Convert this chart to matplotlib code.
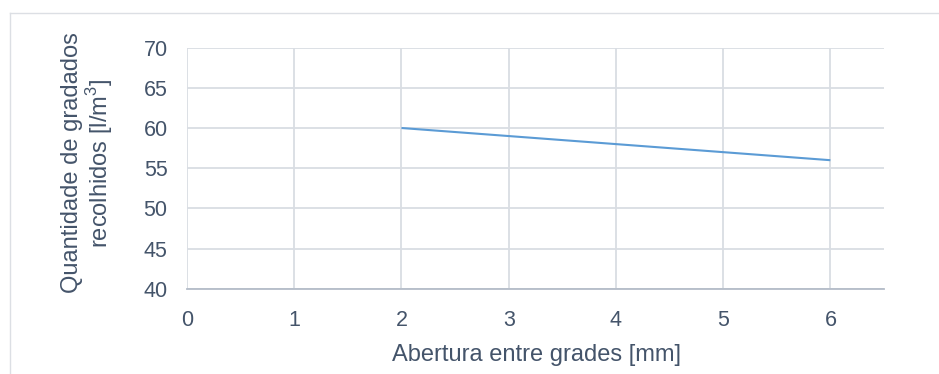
import matplotlib
matplotlib.use("Agg")
import matplotlib.pyplot as plt
from matplotlib.lines import Line2D

x_values = [2, 3, 4, 5, 6]
y_values = [60, 59, 58, 57, 56]
x_ticks = [0, 1, 2, 3, 4, 5, 6]
y_ticks = [40, 45, 50, 55, 60, 65, 70]
x_label = "Abertura entre grades [mm]"
y_label = "Quantidade de gradados\nrecolhidos [l/m$^3$]"

plt.rcParams['font.family'] = ['Liberation Sans', 'DejaVu Sans']
plt.rcParams['mathtext.fontset'] = 'custom'
plt.rcParams['mathtext.rm'] = 'Liberation Sans'

W, H = 939, 374
fig = plt.figure(figsize=(W / 100, H / 100), dpi=100)
text_c = '#44546a'
grid_c = '#d9dde3'
axis_c = '#b4bcc8'

# outer chart frame (partly cropped)
fig.add_artist(Line2D([10 / W, 10 / W], [0, 1 - 13 / H], transform=fig.transFigure, color='#dcdfe4', lw=1))
fig.add_artist(Line2D([10 / W, 1], [1 - 13 / H, 1 - 13 / H], transform=fig.transFigure, color='#dcdfe4', lw=1))

left, right = 187, 884
top, bottom = 47.5, 289
ax = fig.add_axes([left / W, 1 - bottom / H, (right - left) / W, (bottom - top) / H])
ax.plot(x_values, y_values, color='#5b9bd5', lw=1.5, solid_capstyle='butt')
ax.set_xlim(0, 6.5)
ax.set_ylim(40, 70)
ax.set_xticks(x_ticks)
ax.set_yticks(y_ticks)
ax.grid(True, color=grid_c, lw=1.3)
ax.set_axisbelow(True)
for s in ['top', 'right', 'left']:
    ax.spines[s].set_visible(False)
ax.spines['bottom'].set_color(axis_c)
ax.spines['bottom'].set_linewidth(1.3)
ax.tick_params(length=0, labelsize=15.5, colors=text_c)
ax.tick_params(axis='x', pad=15)
ax.tick_params(axis='y', pad=14)
fig.text(537 / W, 1 - 355 / H, x_label, ha='center', va='center', fontsize=17, color=text_c)
fig.text(88 / W, 1 - 163 / H, y_label, rotation=90, ha='center', va='center',
         fontsize=17, color=text_c, linespacing=1.08)
fig.savefig('out.png', dpi=100)
